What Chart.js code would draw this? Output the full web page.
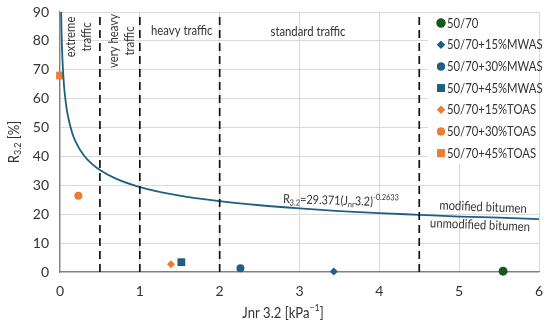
<!DOCTYPE html>
<html>
<head>
<meta charset="utf-8">
<script src="https://cdn.jsdelivr.net/npm/chart.js@4.4.0/dist/chart.umd.min.js"></script>
<style>
  html, body { margin: 0; padding: 0; background: #fff; }
</style>
</head>
<body>
<canvas id="rGraph" width="550" height="327"></canvas>
<script>
// measured samples
const seriesNames = ['50/70', '50/70+15%MWAS', '50/70+30%MWAS', '50/70+45%MWAS', '50/70+15%TOAS', '50/70+30%TOAS', '50/70+45%TOAS']
const seriesJnr = [5.55, 3.43, 2.26, 1.52, 1.39, 0.23, 0.0]
const seriesR = [0.3, 0.2, 1.3, 3.4, 2.7, 26.4, 68]

// boundary curve R3.2 = 29.371 (Jnr3.2)^-0.2633
const curveJnr = [0.0142, 0.02, 0.03, 0.05, 0.075, 0.1, 0.15, 0.2, 0.3, 0.4, 0.5, 0.7, 1, 1.5, 2, 2.5, 3, 3.5, 4, 4.5, 5, 5.5, 6]
const curveR = [90, 82.3, 73.9, 64.6, 58.1, 53.9, 48.4, 44.9, 40.3, 37.4, 35.3, 32.3, 29.4, 26.4, 24.5, 23.1, 22.0, 21.1, 20.4, 19.8, 19.2, 18.8, 18.3]

// traffic class limits (Jnr)
const trafficLimits = [0.5, 1, 2, 4.5]

const xTicks = [0, 1, 2, 3, 4, 5, 6]
const yTicks = [0, 10, 20, 30, 40, 50, 60, 70, 80, 90]

const BLUE = '#1f5f85'
const ORANGE = '#ed7d31'
const GREEN = '#125a1f'
const TEXT = '#333333'
const FONT = 'Lato'
const SQUEEZE = 0.87 // Lato is wider than the original font

const seriesStyles = [
  { color: GREEN, shape: 'circle', r: 4.5 },
  { color: BLUE, shape: 'rectRot', r: 4 },
  { color: BLUE, shape: 'circle', r: 4 },
  { color: BLUE, shape: 'rect', r: 5.5 },
  { color: ORANGE, shape: 'rectRot', r: 4 },
  { color: ORANGE, shape: 'circle', r: 4 },
  { color: ORANGE, shape: 'rect', r: 5.5 }
]

const datasets = []

trafficLimits.forEach(x => {
  datasets.push({
    data: [{ x: x, y: 0 }, { x: x, y: 90 }],
    showLine: true,
    borderColor: '#111',
    borderWidth: 1.7,
    borderDash: [8, 5],
    pointRadius: 0
  })
})

datasets.push({
  data: curveJnr.map((x, i) => ({ x: x, y: curveR[i] })),
  showLine: true,
  borderColor: BLUE,
  borderWidth: 1.8,
  cubicInterpolationMode: 'monotone',
  pointRadius: 0
})

seriesNames.forEach((name, i) => {
  const s = seriesStyles[i]
  datasets.push({
    label: name,
    data: [{ x: seriesJnr[i], y: seriesR[i] }],
    clip: false,
    pointStyle: s.shape,
    pointRadius: s.r,
    pointBackgroundColor: s.color,
    pointBorderColor: s.color,
    pointBorderWidth: 0
  })
})

// narrow text, closer to the original's font width
function txt (ctx, t, x, y) {
  ctx.fillText(t, x, y, ctx.measureText(t).width * SQUEEZE)
  return ctx.measureText(t).width * SQUEEZE
}

// run of text pieces (normal / sub / sup) starting at x
function richText (ctx, parts, x, y, size) {
  let cx = x
  parts.forEach(p => {
    const fs = p.k ? size * 0.68 : size
    const dy = p.k === 'sub' ? size * 0.28 : p.k === 'sup' ? -size * 0.38 : 0
    ctx.font = fs + 'px ' + FONT
    cx += txt(ctx, p.t, cx, y + dy)
  })
  return cx - x
}

function richWidth (ctx, parts, size) {
  let w = 0
  parts.forEach(p => {
    ctx.font = (p.k ? size * 0.68 : size) + 'px ' + FONT
    w += ctx.measureText(p.t).width * SQUEEZE
  })
  return w
}

const labelsPlugin = {
  id: 'labelsPlugin',
  afterDatasetsDraw (chart) {
    const { ctx, scales: { x } } = chart
    ctx.save()
    ctx.textBaseline = 'middle'

    // legend box
    ctx.fillStyle = '#fff'
    ctx.fillRect(428, 13.5, 111, 150)
    ctx.textAlign = 'left'
    seriesNames.forEach((name, i) => {
      const s = seriesStyles[i]
      const cy = 23 + i * 21.7
      ctx.fillStyle = s.color
      Chart.helpers.drawPoint(ctx, { pointStyle: s.shape, radius: s.r, borderWidth: 0 }, 441, cy)
      ctx.fill()
      ctx.fillStyle = TEXT
      ctx.font = '13px ' + FONT
      txt(ctx, name, 447, cy + 0.5)
    })

    ctx.fillStyle = TEXT
    // traffic classes
    ctx.font = '13px ' + FONT
    ctx.textAlign = 'center'
    const vert = (lines, cx, cy) => {
      ctx.save()
      ctx.translate(cx, cy)
      ctx.rotate(-Math.PI / 2)
      lines.forEach((t, i) => txt(ctx, t, 0, (i - (lines.length - 1) / 2) * 16))
      ctx.restore()
    }
    vert(['extreme', 'traffic'], 79, 37)
    vert(['very heavy', 'traffic'], 122, 41)
    txt(ctx, 'heavy traffic', (x.getPixelForValue(1) + x.getPixelForValue(2)) / 2 + 2, 31)
    txt(ctx, 'standard traffic', 308, 32)

    // equation and bitumen labels, slightly tilted along the curve
    ctx.textAlign = 'left'
    ctx.save()
    ctx.translate(283, 199)
    ctx.rotate(0.03)
    richText(ctx, [
      { t: 'R' }, { t: '3.2', k: 'sub' }, { t: '=29.371(J' }, { t: 'nr', k: 'sub' }, { t: '3.2)' }, { t: '-0.2633', k: 'sup' }
    ], 0, 0, 12.5)
    ctx.restore()

    ctx.font = '13px ' + FONT
    ctx.textAlign = 'center'
    ctx.save()
    ctx.translate(483, 207)
    ctx.rotate(0.04)
    txt(ctx, 'modified bitumen', 0, 0)
    ctx.restore()
    ctx.save()
    ctx.translate(480, 225)
    ctx.rotate(0.04)
    txt(ctx, 'unmodified bitumen', 0, 0)
    ctx.restore()

    // axis titles
    ctx.textAlign = 'left'
    const yt = [{ t: 'R' }, { t: '3.2', k: 'sub' }, { t: ' [%]' }]
    ctx.save()
    ctx.translate(14, 142)
    ctx.rotate(-Math.PI / 2)
    richText(ctx, yt, -richWidth(ctx, yt, 15) / 2, 0, 15)
    ctx.restore()

    const xt = [{ t: 'Jnr 3.2 [kPa' }, { t: '\u22121', k: 'sup' }, { t: ']' }]
    richText(ctx, xt, 283 - richWidth(ctx, xt, 15) / 2, 313, 15)
    ctx.restore()
  }
}

new Chart(document.getElementById('rGraph').getContext('2d'), {
  type: 'scatter',
  data: { datasets },
  options: {
    responsive: false,
    animation: false,
    devicePixelRatio: 1,
    layout: { padding: { top: 12, right: 11, left: 0, bottom: 0 } },
    plugins: {
      legend: { display: false },
      tooltip: { enabled: false }
    },
    scales: {
      x: {
        type: 'linear',
        min: 0,
        max: 6,
        afterBuildTicks: s => { s.ticks = xTicks.map(v => ({ value: v })) },
        afterFit: s => { s.height = 55; s.paddingLeft = 0; s.paddingRight = 0 },
        grid: { color: '#d9d9d9', drawTicks: false },
        border: { color: '#808080', width: 1.2 },
        ticks: { padding: 11, color: TEXT, font: { family: FONT, size: 14 } }
      },
      y: {
        type: 'linear',
        min: 0,
        max: 90,
        afterBuildTicks: s => { s.ticks = yTicks.map(v => ({ value: v })) },
        afterFit: s => { s.width = 60; s.paddingTop = 0; s.paddingBottom = 0 },
        grid: { color: '#d9d9d9', drawTicks: false },
        border: { color: '#808080', width: 1.2 },
        ticks: { padding: 11, color: TEXT, font: { family: FONT, size: 14 } }
      }
    }
  },
  plugins: [labelsPlugin]
})
</script>
</body>
</html>
